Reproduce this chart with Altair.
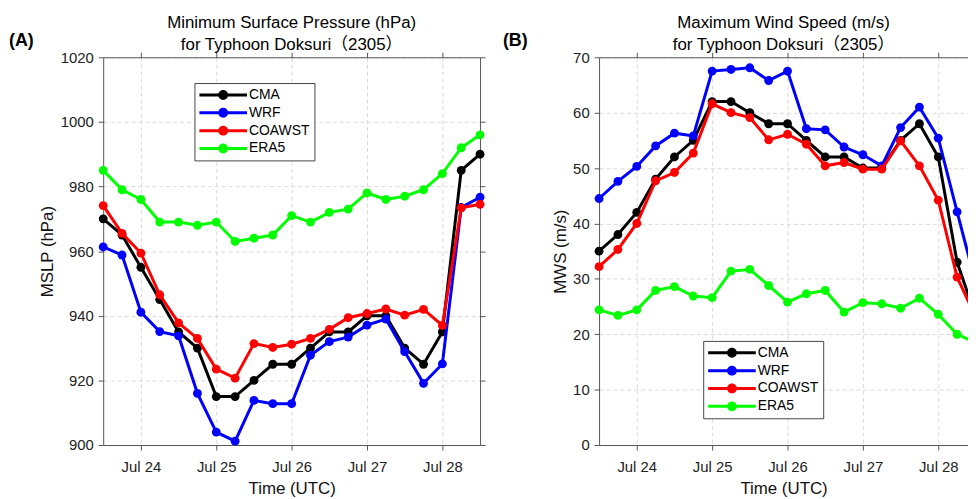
import altair as alt
import pandas as pd

# ---------------- data ----------------
times = [
    "2023-07-23T12:00:00", "2023-07-23T18:00:00",
    "2023-07-24T00:00:00", "2023-07-24T06:00:00", "2023-07-24T12:00:00", "2023-07-24T18:00:00",
    "2023-07-25T00:00:00", "2023-07-25T06:00:00", "2023-07-25T12:00:00", "2023-07-25T18:00:00",
    "2023-07-26T00:00:00", "2023-07-26T06:00:00", "2023-07-26T12:00:00", "2023-07-26T18:00:00",
    "2023-07-27T00:00:00", "2023-07-27T06:00:00", "2023-07-27T12:00:00", "2023-07-27T18:00:00",
    "2023-07-28T00:00:00", "2023-07-28T06:00:00", "2023-07-28T12:00:00",
]
series = ["CMA", "WRF", "COAWST", "ERA5"]
colors = ["#000000", "#0000ff", "#ff0000", "#00ff00"]
day_ticks = [24, 25, 26, 27, 28]

mslp_cma = [970, 965, 955, 945, 935, 930, 915, 915, 920, 925, 925, 930, 935, 935, 940, 940, 930, 925, 935, 985, 990]
mslp_wrf = [961.3, 958.8, 941.1, 935.1, 933.8, 916, 904, 901.2, 913.8, 912.8, 912.8, 927.8, 932, 933.4, 937.1, 939, 928.9, 919.1, 925.1, 973.5, 976.7]
mslp_coawst = [974.1, 965.5, 959.4, 946.5, 937.8, 933, 923.5, 920.7, 931.4, 930.2, 931.2, 933, 935.8, 939.4, 940.7, 942.1, 940.2, 942, 937, 973.4, 974.5]
mslp_era5 = [985, 979, 976, 969, 969, 968, 969, 963, 964, 965, 971, 969, 972, 973, 978, 976, 977, 979, 984, 992, 996]

mws_cma = [35, 38, 42, 48, 52, 55, 62, 62, 60, 58, 58, 55, 52, 52, 50, 50, 55, 58, 52, 33, 23]
mws_wrf = [44.5, 47.6, 50.3, 54.0, 56.3, 55.8, 67.5, 67.8, 68.1, 65.8, 67.5, 57.1, 56.9, 53.8, 52.4, 50.4, 57.3, 61.0, 55.4, 42.1, 29]
mws_coawst = [32.2, 35.3, 40.0, 47.7, 49.2, 52.7, 61.6, 60, 59.1, 55.1, 56.1, 54.3, 50.4, 51.0, 49.8, 49.8, 54.9, 50.4, 44.2, 30.3, 23]
mws_era5 = [24.4, 23.4, 24.4, 27.9, 28.6, 26.9, 26.6, 31.4, 31.7, 28.8, 25.8, 27.3, 27.9, 24, 25.7, 25.5, 24.7, 26.5, 23.6, 20, 18.5]

mslp_ticks = [900, 920, 940, 960, 980, 1000, 1020]
mws_ticks = [0, 10, 20, 30, 40, 50, 60, 70]

FONT = "Liberation Sans, Arial, Noto Sans CJK SC, sans-serif"
LEGEND_PATH = "M-4.8,-0.3L4.8,-0.3L4.8,0.3L-4.8,0.3Z M-1,0A1,1,0,1,1,1,0A1,1,0,1,1,-1,0Z"


def long_df(vals):
    rows = []
    for s, arr in zip(series, vals):
        for t, v in zip(times, arr):
            rows.append({"time": t, "series": s, "value": v})
    return pd.DataFrame(rows)


def make_panel(vals, ydomain, yticks, xend, ytitle, ytitle_pad, title_lines, tag, tag_dx,
               legend_x, legend_y, width, right_axis):
    df = long_df(vals)
    xsc = alt.Scale(domain=[alt.DateTime(year=2023, month=7, date=23, hours=12), xend])
    ysc = alt.Scale(domain=ydomain, nice=False, zero=False)
    col = alt.Scale(domain=series, range=colors)
    xt = [alt.DateTime(year=2023, month=7, date=d) for d in day_ticks]
    base = alt.Chart(df)

    main_axes = base.mark_point(opacity=0).encode(
        x=alt.X("time:T", scale=xsc, axis=alt.Axis(
            orient="bottom", values=xt, format="%b %-d", title="Time (UTC)",
            grid=True, labelPadding=10, titlePadding=6)),
        y=alt.Y("value:Q", scale=ysc, axis=alt.Axis(
            orient="left", values=yticks, format="d", title=ytitle, grid=True,
            labelPadding=5, titlePadding=ytitle_pad)),
    )
    top_axes = base.mark_point(opacity=0).encode(
        x=alt.X("time:T", scale=xsc, axis=alt.Axis(
            orient="top", values=xt, labels=False, title=None, grid=False)),
        y=alt.Y("value:Q", scale=ysc, axis=(alt.Axis(
            orient="right", values=yticks, labels=False, title=None, grid=False)
            if right_axis else None)),
    )
    layers = [main_axes, top_axes]
    leg = alt.Legend(
        orient="none", legendX=legend_x, legendY=legend_y, direction="vertical",
        title=None, fillColor="white", strokeColor="#444", padding=5,
        symbolType=LEGEND_PATH, symbolSize=100, symbolStrokeWidth=0,
        symbolOffset=17, labelOffset=19, labelFont=FONT, labelFontSize=14,
        labelColor="black", rowPadding=4, symbolOpacity=1,
    )
    for i, s in enumerate(series):
        sub = base.transform_filter(alt.datum.series == s)
        line = sub.mark_line(strokeWidth=3, color=colors[i]).encode(
            x=alt.X("time:T", scale=xsc, axis=None),
            y=alt.Y("value:Q", scale=ysc, axis=None),
        )
        pts = sub.mark_point(filled=True, size=80, opacity=1).encode(
            x=alt.X("time:T", scale=xsc, axis=None),
            y=alt.Y("value:Q", scale=ysc, axis=None),
            color=alt.Color("series:N", scale=col, legend=leg),
        )
        layers += [line, pts]

    tag_layer = alt.Chart(pd.DataFrame({"t": [tag]})).mark_text(
        align="left", baseline="alphabetic", font=FONT, fontSize=18,
        fontWeight="bold", color="black",
    ).encode(x=alt.value(tag_dx), y=alt.value(-11), text="t:N")
    layers.append(tag_layer)

    return alt.layer(*layers).resolve_axis(x="independent", y="independent").properties(
        width=width, height=391,
        title=alt.TitleParams(text=title_lines, font=FONT, fontSize=17,
                              fontWeight="normal", color="black", anchor="middle",
                              offset=-22, lineHeight=23),
    )


panel_a = make_panel(
    [mslp_cma, mslp_wrf, mslp_coawst, mslp_era5], [900, 1020], mslp_ticks,
    alt.DateTime(year=2023, month=7, date=28, hours=12), "MSLP (hPa)", 4,
    ["Minimum Surface Pressure (hPa)", "for Typhoon Doksuri\uff082305\uff09"],
    "(A)", -95, 92, 26, 380, True,
)
panel_b = make_panel(
    [mws_cma, mws_wrf, mws_coawst, mws_era5], [0, 70], mws_ticks,
    alt.DateTime(year=2023, month=7, date=28, hours=9, minutes=28), "MWS (m/s)", 3,
    ["Maximum Wind Speed (m/s)", "for Typhoon Doksuri\uff082305\uff09"],
    "(B)", -97, 105, 286, 372, False,
)

chart = alt.hconcat(panel_a, panel_b, spacing=120, bounds="flush").resolve_scale(
    color="independent"
).resolve_legend(color="independent").properties(
    autosize=alt.AutoSizeParams(type="none"),
    padding={"left": 96, "top": 46, "right": 872, "bottom": 445},
).configure_view(stroke=None).configure_axis(
    domainColor="#555555", tickColor="#555555", tickSize=5, domainWidth=1, tickWidth=1,
    labelFont=FONT, labelFontSize=15, labelColor="#222222",
    titleFont=FONT, titleFontSize=17, titleFontWeight="normal", titleColor="#111111",
    gridColor="#d9d9d9", gridDash=[4, 3], gridWidth=1,
)

chart.save("out.html", embed_options={"renderer": "svg", "actions": False})
